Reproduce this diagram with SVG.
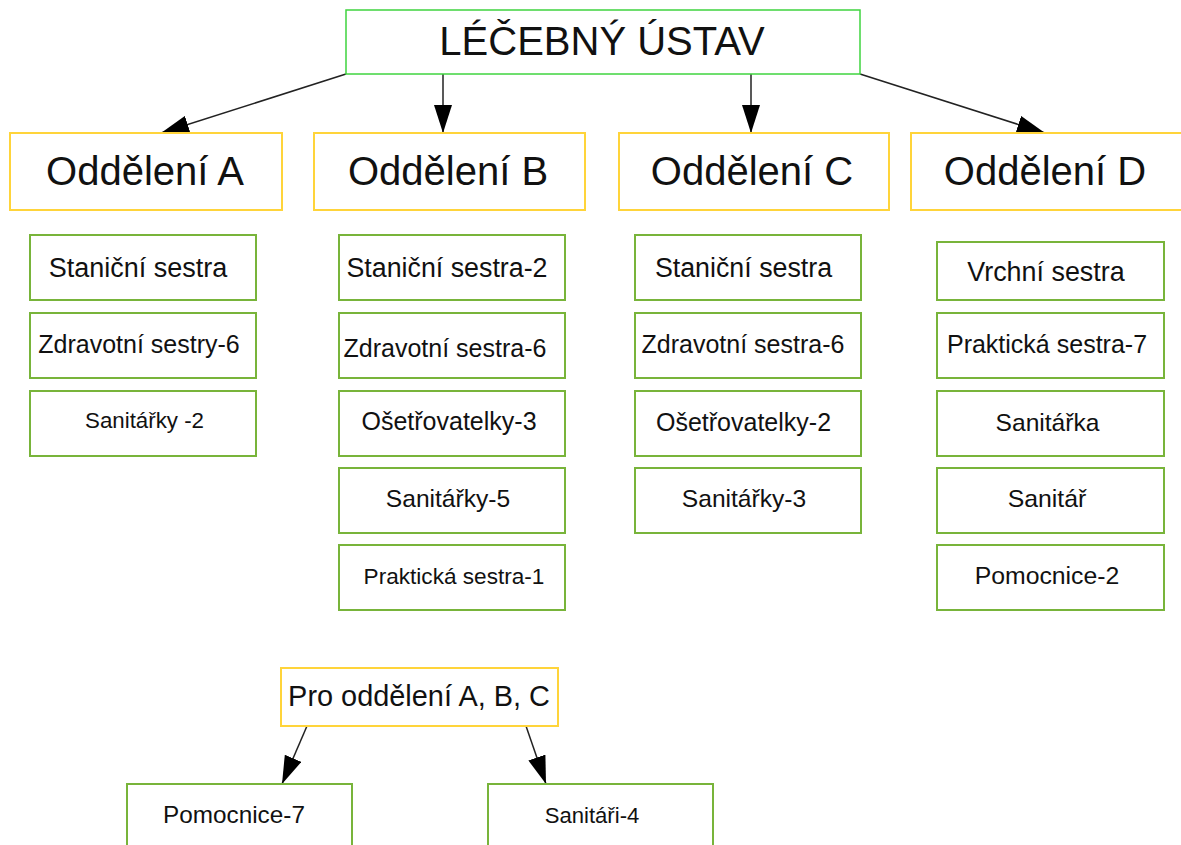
<svg xmlns="http://www.w3.org/2000/svg" width="1181" height="845" viewBox="0 0 1181 845">
<style>
text{font-family:"Liberation Sans",Arial,sans-serif;fill:#111;text-anchor:middle}
.top{fill:#fff;stroke:#3fd43f;stroke-width:1.5}
.dep{fill:#fff;stroke:#ffd43a;stroke-width:2}
.sub{fill:#fff;stroke:#78b43a;stroke-width:2}
.t40{font-size:40px}
.conn line{stroke:#222;stroke-width:1.5}
</style>
<defs>
<marker id="ah" viewBox="0 0 28 18" markerUnits="userSpaceOnUse" markerWidth="28" markerHeight="18" refX="28" refY="9" orient="auto">
<path d="M0,0 L28,9 L0,18 z" fill="#000"/>
</marker>
</defs>
<rect width="1181" height="845" fill="#fff"/>
<g id="connectors" class="conn">
<line x1="346" y1="74" x2="161" y2="133" marker-end="url(#ah)"/>
<line x1="443" y1="74" x2="443" y2="133" marker-end="url(#ah)"/>
<line x1="751" y1="74" x2="751" y2="133" marker-end="url(#ah)"/>
<line x1="860" y1="74" x2="1045" y2="133" marker-end="url(#ah)"/>
<line x1="307" y1="726" x2="282" y2="784" marker-end="url(#ah)"/>
<line x1="526" y1="726" x2="546" y2="784" marker-end="url(#ah)"/>
</g>
<g id="root"><rect class="top" x="346" y="10" width="514" height="64"/><text class="t40" x="602" y="55">LÉČEBNÝ ÚSTAV</text></g>
<g id="depA"><rect class="dep" x="10" y="133" width="272" height="77"/><text class="t40" x="145" y="185">Oddělení A</text></g>
<g id="depB"><rect class="dep" x="314" y="133" width="271" height="77"/><text class="t40" x="448" y="185">Oddělení B</text></g>
<g id="depC"><rect class="dep" x="619" y="133" width="270" height="77"/><text class="t40" x="752" y="185">Oddělení C</text></g>
<g id="depD"><rect class="dep" x="911" y="133" width="272" height="77"/><text class="t40" x="1045" y="185">Oddělení D</text></g>

<g id="a1"><rect class="sub" x="30" y="235" width="226" height="65"/><text x="138" y="277" font-size="27">Staniční sestra</text></g>
<g id="a2"><rect class="sub" x="30" y="313" width="226" height="65"/><text x="139" y="353" font-size="25">Zdravotní sestry-6</text></g>
<g id="a3"><rect class="sub" x="30" y="391" width="226" height="65"/><text x="144.5" y="428" font-size="22.3">Sanitářky -2</text></g>

<g id="b1"><rect class="sub" x="339" y="235" width="226" height="65"/><text x="447" y="277" font-size="26.8">Staniční sestra-2</text></g>
<g id="b2"><rect class="sub" x="339" y="313" width="226" height="65"/><text x="445" y="357" font-size="25">Zdravotní sestra-6</text></g>
<g id="b3"><rect class="sub" x="339" y="391" width="226" height="65"/><text x="449" y="430" font-size="25">Ošetřovatelky-3</text></g>
<g id="b4"><rect class="sub" x="339" y="468" width="226" height="65"/><text x="448" y="507" font-size="24.6">Sanitářky-5</text></g>
<g id="b5"><rect class="sub" x="339" y="545" width="226" height="65"/><text x="454" y="584" font-size="22.6">Praktická sestra-1</text></g>

<g id="c1"><rect class="sub" x="635" y="235" width="226" height="65"/><text x="743.5" y="277" font-size="26.8">Staniční sestra</text></g>
<g id="c2"><rect class="sub" x="635" y="313" width="226" height="65"/><text x="743" y="353" font-size="25">Zdravotní sestra-6</text></g>
<g id="c3"><rect class="sub" x="635" y="391" width="226" height="65"/><text x="743.5" y="431" font-size="25">Ošetřovatelky-2</text></g>
<g id="c4"><rect class="sub" x="635" y="468" width="226" height="65"/><text x="744" y="507" font-size="24.6">Sanitářky-3</text></g>

<g id="d1"><rect class="sub" x="937" y="242" width="227" height="58"/><text x="1046" y="281" font-size="26.9">Vrchní sestra</text></g>
<g id="d2"><rect class="sub" x="937" y="313" width="227" height="65"/><text x="1047" y="353" font-size="25">Praktická sestra-7</text></g>
<g id="d3"><rect class="sub" x="937" y="391" width="227" height="65"/><text x="1047.5" y="431" font-size="24.6">Sanitářka</text></g>
<g id="d4"><rect class="sub" x="937" y="468" width="227" height="65"/><text x="1047" y="507" font-size="24.8">Sanitář</text></g>
<g id="d5"><rect class="sub" x="937" y="545" width="227" height="65"/><text x="1047" y="584" font-size="24.8">Pomocnice-2</text></g>

<g id="pro"><rect class="dep" x="281" y="668" width="277" height="58"/><text x="419" y="706" font-size="28.9">Pro oddělení A, B, C</text></g>
<g id="pomocnice7"><rect class="sub" x="127" y="784" width="225" height="70"/><text x="234" y="823" font-size="24.3">Pomocnice-7</text></g>
<g id="sanitari4"><rect class="sub" x="488" y="784" width="225" height="70"/><text x="592" y="823" font-size="22.1">Sanitáři-4</text></g>
</svg>
